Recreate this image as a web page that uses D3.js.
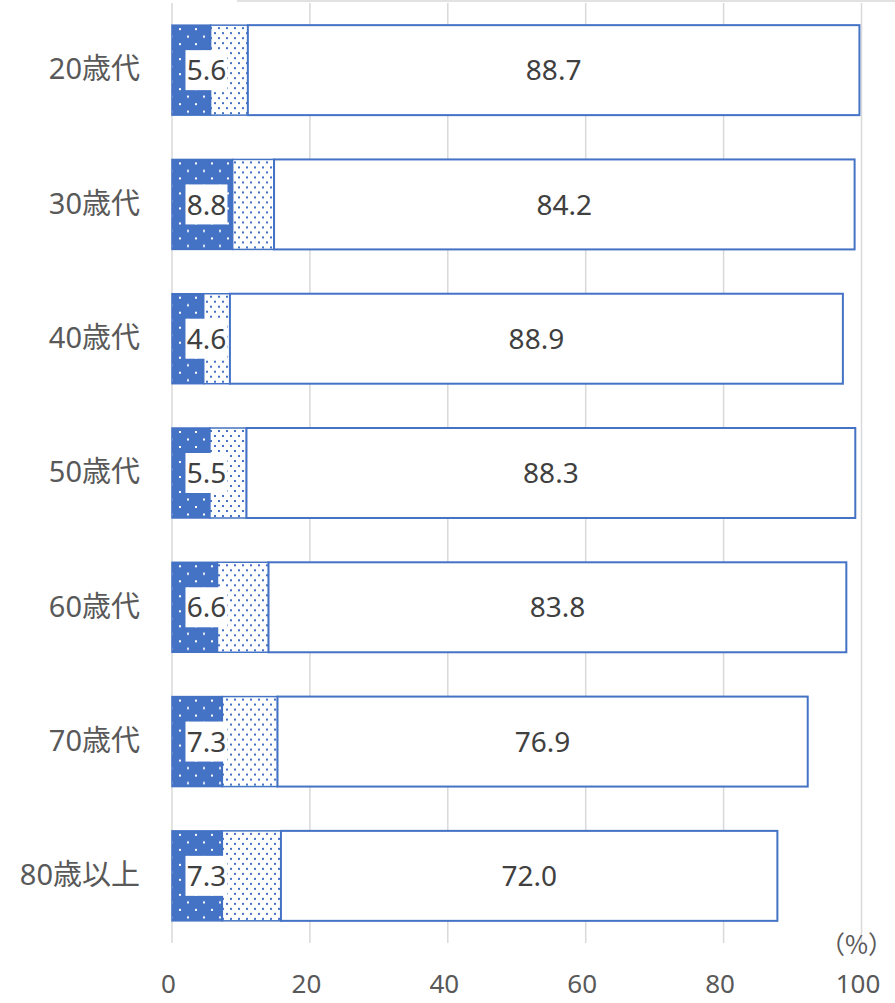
<!DOCTYPE html>
<html><head><meta charset="utf-8">
<script src="https://cdn.jsdelivr.net/npm/d3@7/dist/d3.min.js"></script>
<style>body{margin:0;background:#fff}svg{display:block}</style>
</head><body><div id="chart"></div>
<script>
const categories = ["20歳代","30歳代","40歳代","50歳代","60歳代","70歳代","80歳以上"];
const seriesA = [5.6, 8.8, 4.6, 5.5, 6.6, 7.3, 7.3];
const seriesB = [5.4, 6.0, 3.8, 5.3, 7.4, 8.0, 8.5];
const seriesC = [88.7, 84.2, 88.9, 88.3, 83.8, 76.9, 72.0];
const ticks = [0, 20, 40, 60, 80, 100];
const unitLabel = "（%）";

const W = 895, H = 1003;
const blue = "#4472C4";
const font = "'Noto Sans','Noto Sans CJK JP',sans-serif";
const cjk = "'Noto Sans CJK JP','Noto Sans',sans-serif";
const svg = d3.select("#chart").append("svg").attr("width", W).attr("height", H);
const defs = svg.append("defs");
const pA = defs.append("pattern").attr("id","pA").attr("patternUnits","userSpaceOnUse").attr("width",16).attr("height",15);
pA.append("rect").attr("width",16).attr("height",15).attr("fill",blue);
pA.append("rect").attr("x",3).attr("y",3).attr("width",2).attr("height",2).attr("fill","#fff");
pA.append("rect").attr("x",11).attr("y",10.5).attr("width",2).attr("height",2).attr("fill","#fff");
const pB = defs.append("pattern").attr("id","pB").attr("patternUnits","userSpaceOnUse").attr("width",8).attr("height",10);
pB.append("rect").attr("width",8).attr("height",10).attr("fill","#fff");
pB.append("rect").attr("x",2).attr("y",2).attr("width",2).attr("height",2).attr("fill",blue);
pB.append("rect").attr("x",6).attr("y",7).attr("width",2).attr("height",2).attr("fill",blue);

const x = d3.scaleLinear().domain([0,100]).range([172, 861.5]);
const y = d3.scaleBand().domain(categories).range([3, 943]).paddingInner(0.33).paddingOuter(0.165);

// top frame line
svg.append("line").attr("x1",237).attr("x2",W).attr("y1",1).attr("y2",1).attr("stroke","#D9D9D9").attr("stroke-width",1.5);

// gridlines
svg.append("g").selectAll("line").data(ticks).join("line")
  .attr("x1", d=>x(d)).attr("x2", d=>x(d)).attr("y1", 3).attr("y2", 943)
  .attr("stroke","#D9D9D9").attr("stroke-width",1.5);

// x axis tick labels
const xAxis = d3.axisBottom(x).tickValues(ticks).tickSize(0).tickPadding(0);
const gx = svg.append("g").attr("transform","translate(-4,975)").call(xAxis);
gx.select(".domain").remove();
gx.selectAll("text").attr("font-family",font).attr("font-size",26).attr("fill","#595959").attr("dy","0.71em");

// unit label
svg.append("text").attr("x", 893).attr("y", 945).attr("dy","0.35em").attr("text-anchor","end")
  .attr("font-family",cjk).attr("font-size",25).attr("fill","#595959").text(unitLabel);

// category labels
const yAxis = d3.axisLeft(y).tickSize(0).tickPadding(0);
const gy = svg.append("g").attr("transform","translate(140,0)").call(yAxis);
gy.select(".domain").remove();
gy.selectAll("text").attr("font-family",font).attr("font-size",29).attr("fill","#595959");

const rows = categories.map((c,i)=>({c, a:seriesA[i], b:seriesB[i], t:seriesC[i]}));
const g = svg.append("g");
const row = g.selectAll("g").data(rows).join("g").attr("transform", d=>`translate(0,${y(d.c)})`);
const bh = y.bandwidth();
row.append("rect").attr("x", x(0)).attr("width", d=>x(d.a)-x(0)).attr("height", bh)
  .attr("fill","url(#pA)").attr("stroke",blue).attr("stroke-width",1.5);
row.append("rect").attr("x", d=>x(d.a)).attr("width", d=>x(d.a+d.b)-x(d.a)).attr("height", bh)
  .attr("fill","url(#pB)").attr("stroke",blue).attr("stroke-width",1.5);
row.append("rect").attr("x", d=>x(d.a+d.b)).attr("width", d=>x(d.a+d.b+d.t)-x(d.a+d.b)).attr("height", bh)
  .attr("fill","#fff").attr("stroke",blue).attr("stroke-width",2);

// label for first segment with white box
const lx = x(5.0);
row.append("rect").attr("x", lx-21).attr("y", bh/2-20).attr("width",42).attr("height",40).attr("fill","#fff");
row.append("text").attr("x", lx).attr("y", bh/2).attr("dy","0.36em").attr("text-anchor","middle")
  .attr("font-family",font).attr("font-size",28).attr("fill","#404040").text(d=>d3.format(".1f")(d.a));
row.append("text").attr("x", d=>(x(d.a+d.b)+x(d.a+d.b+d.t))/2).attr("y", bh/2).attr("dy","0.36em").attr("text-anchor","middle")
  .attr("font-family",font).attr("font-size",28).attr("fill","#404040").text(d=>d3.format(".1f")(d.t));
</script></body></html>
